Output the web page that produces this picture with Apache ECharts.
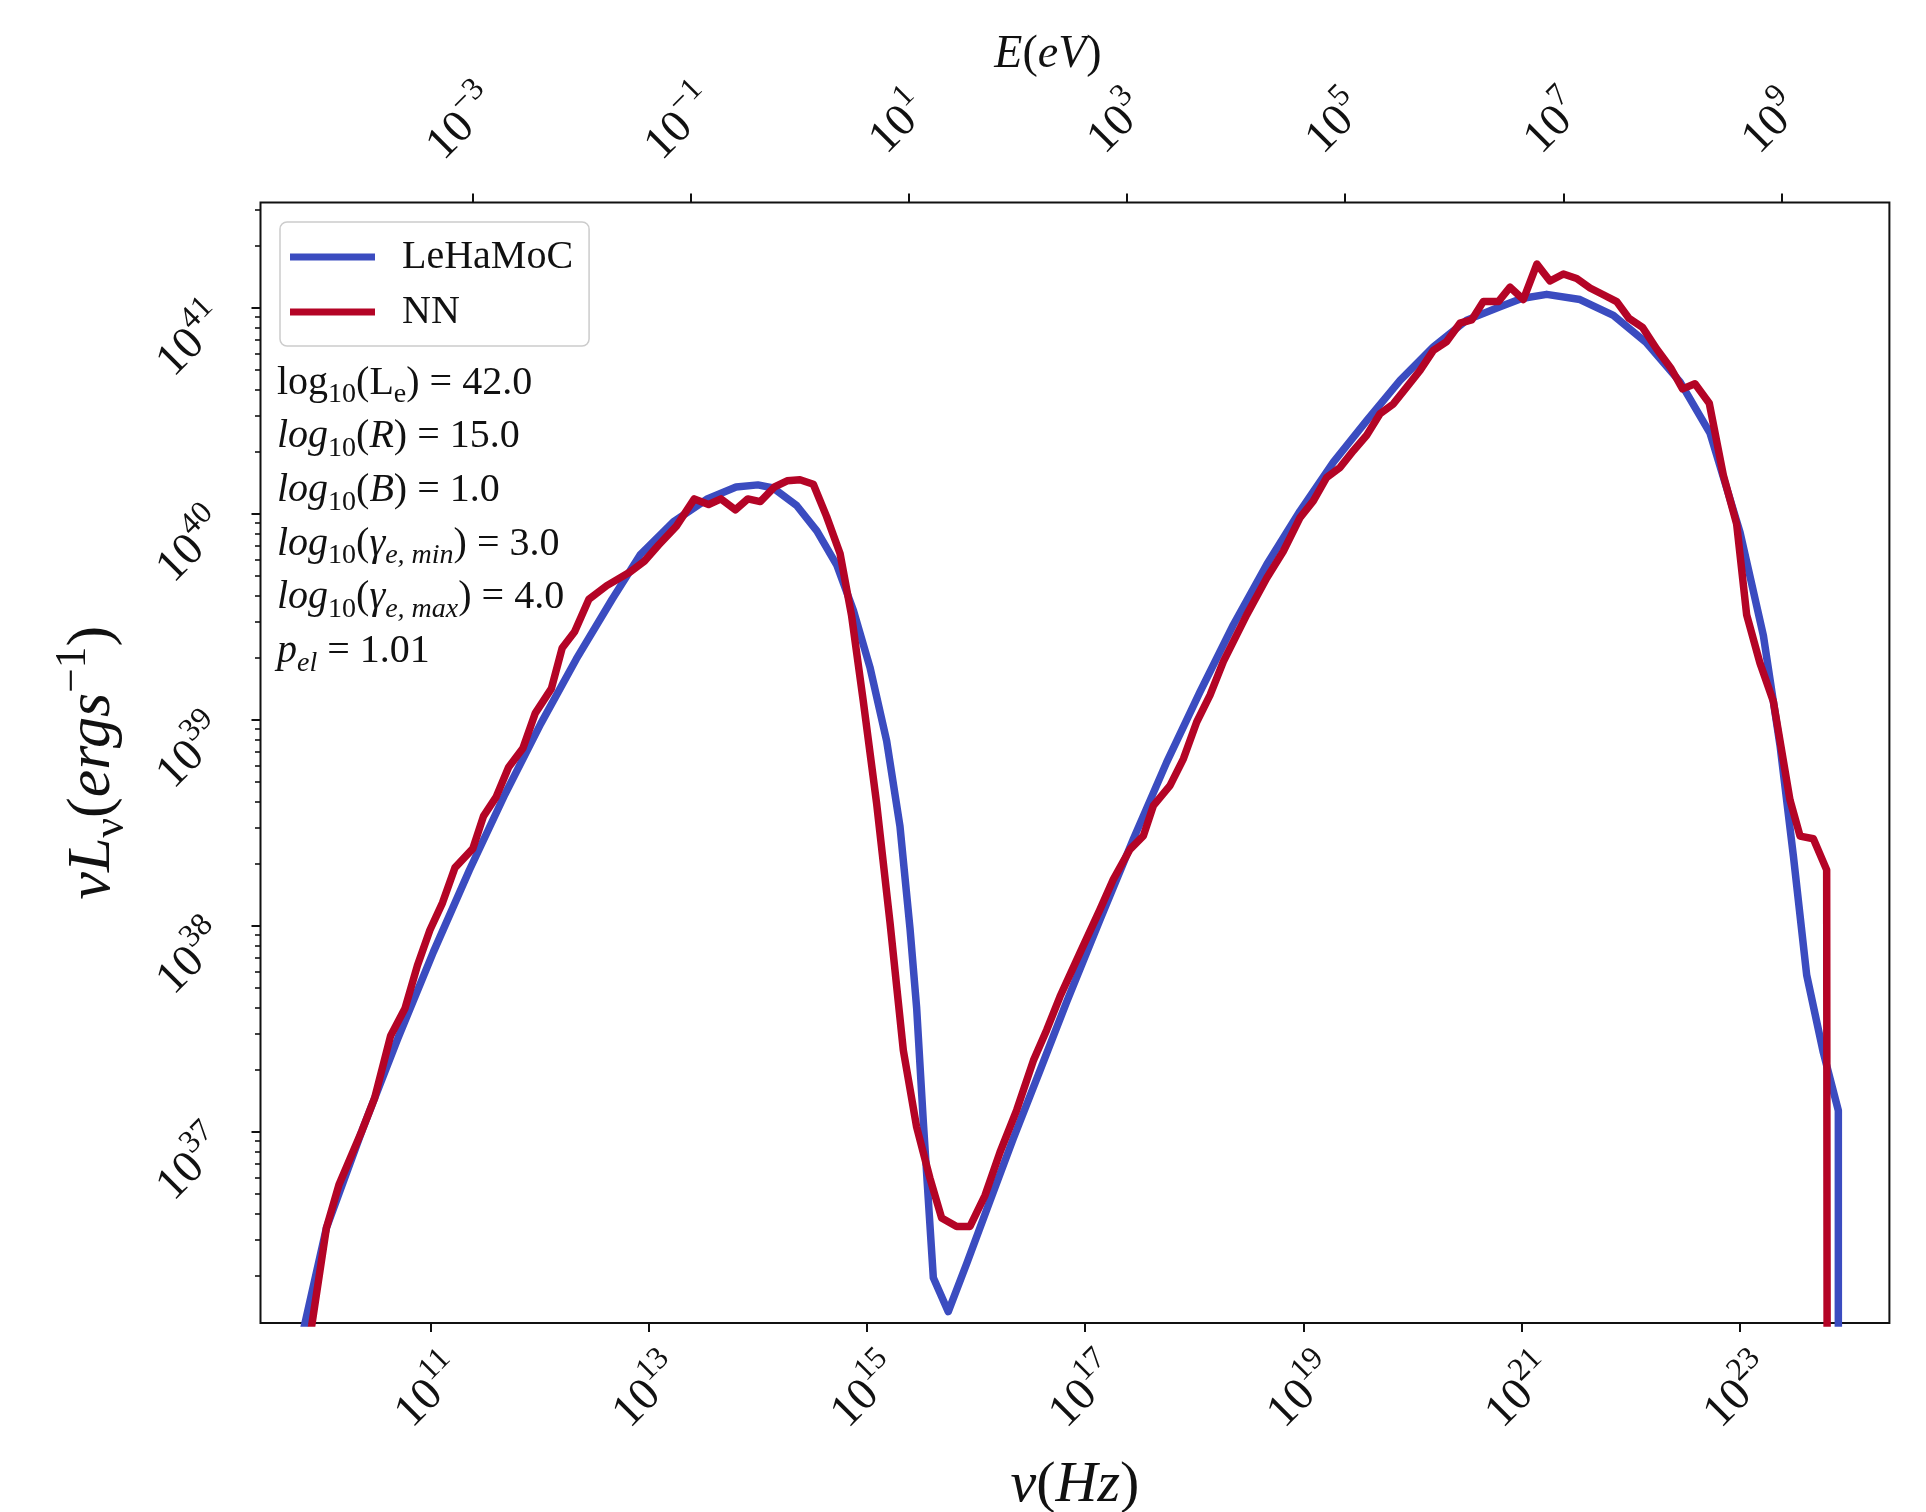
<!DOCTYPE html>
<html><head><meta charset="utf-8">
<script src="https://cdn.jsdelivr.net/npm/echarts@6/dist/echarts.min.js"></script>
<style>html,body{margin:0;padding:0;background:#fff}#chart{width:1926px;height:1512px}</style>
</head><body><div id="chart"></div>
<script>
// ---- data (log10 values) ----
const lehamocLogNu = [9.819, 10.045, 10.372, 10.700, 11.027, 11.355, 11.682, 12.009, 12.336, 12.664, 12.92, 13.225, 13.53, 13.80, 14.00, 14.14, 14.355, 14.54, 14.722, 14.875, 15.027, 15.180, 15.302, 15.394, 15.455, 15.516, 15.608, 15.745, 15.914, 16.127, 16.341, 16.586, 16.830, 17.136, 17.441, 17.747, 18.052, 18.358, 18.664, 18.969, 19.275, 19.580, 19.886, 20.191, 20.497, 20.802, 21.00, 21.230, 21.535, 21.841, 22.146, 22.452, 22.727, 23.002, 23.216, 23.369, 23.491, 23.613, 23.765, 23.903, 23.903];
const lehamocLogL = [36.00, 36.532, 37.006, 37.453, 37.874, 38.269, 38.638, 38.980, 39.295, 39.585, 39.80, 39.96, 40.07, 40.13, 40.14, 40.125, 40.04, 39.917, 39.752, 39.531, 39.255, 38.897, 38.483, 37.987, 37.601, 37.050, 36.291, 36.126, 36.360, 36.664, 36.967, 37.298, 37.63, 38.03, 38.42, 38.794, 39.135, 39.461, 39.753, 40.013, 40.251, 40.452, 40.647, 40.810, 40.940, 41.005, 41.045, 41.065, 41.040, 40.963, 40.829, 40.640, 40.391, 39.910, 39.408, 38.873, 38.338, 37.760, 37.385, 37.103, 30.0];
const nnLogNu = [9.894, 10.045, 10.160, 10.372, 10.487, 10.634, 10.765, 10.880, 10.994, 11.109, 11.224, 11.387, 11.485, 11.600, 11.715, 11.846, 11.960, 12.107, 12.206, 12.320, 12.451, 12.615, 12.828, 12.959, 13.090, 13.253, 13.417, 13.548, 13.662, 13.793, 13.908, 14.022, 14.153, 14.268, 14.386, 14.508, 14.630, 14.753, 14.859, 14.966, 15.088, 15.211, 15.333, 15.455, 15.577, 15.684, 15.822, 15.944, 16.082, 16.219, 16.372, 16.525, 16.647, 16.769, 16.952, 17.136, 17.258, 17.411, 17.533, 17.625, 17.777, 17.900, 18.022, 18.144, 18.266, 18.480, 18.664, 18.816, 18.969, 19.091, 19.213, 19.336, 19.458, 19.580, 19.702, 19.824, 19.947, 20.069, 20.191, 20.313, 20.435, 20.542, 20.649, 20.787, 20.894, 21.016, 21.140, 21.260, 21.383, 21.505, 21.627, 21.749, 21.871, 21.985, 22.108, 22.238, 22.370, 22.475, 22.589, 22.720, 22.849, 22.971, 23.063, 23.185, 23.307, 23.460, 23.552, 23.674, 23.796, 23.811];
const nnLogL = [36.00, 36.532, 36.742, 37.006, 37.163, 37.466, 37.598, 37.808, 37.979, 38.111, 38.282, 38.374, 38.532, 38.624, 38.769, 38.861, 39.032, 39.151, 39.348, 39.427, 39.585, 39.651, 39.717, 39.769, 39.848, 39.940, 40.072, 40.045, 40.072, 40.019, 40.072, 40.059, 40.130, 40.160, 40.165, 40.143, 39.986, 39.807, 39.504, 39.090, 38.594, 38.015, 37.395, 37.022, 36.774, 36.581, 36.540, 36.540, 36.691, 36.900, 37.105, 37.345, 37.494, 37.656, 37.868, 38.079, 38.225, 38.371, 38.436, 38.583, 38.680, 38.810, 38.989, 39.119, 39.282, 39.509, 39.688, 39.818, 39.981, 40.062, 40.176, 40.225, 40.306, 40.381, 40.485, 40.533, 40.615, 40.696, 40.793, 40.836, 40.925, 40.941, 41.030, 41.030, 41.100, 41.040, 41.212, 41.130, 41.164, 41.142, 41.096, 41.063, 41.030, 40.948, 40.905, 40.800, 40.705, 40.606, 40.631, 40.536, 40.187, 39.950, 39.508, 39.274, 39.090, 38.610, 38.435, 38.422, 38.271, 30.0];
const seriesNames = ['LeHaMoC', 'NN'];
const nuTickExps = [11, 13, 15, 17, 19, 21, 23];
const energyTickExps = [-3, -1, 1, 3, 5, 7, 9];
const lumTickExps = [37, 38, 39, 40, 41];
const nuRange = [9.441, 24.371];
const lumRange = [36.071, 41.511];
const paramLines = [
  '{r|log}{sub|10}{r|(L}{sub|e}{r|) = 42.0}',
  '{i|log}{sub|10}{r|(}{i|R}{r|) = 15.0}',
  '{i|log}{sub|10}{r|(}{i|B}{r|) = 1.0}',
  '{i|log}{sub|10}{r|(}{i|γ}{subi|e, min}{r|) = 3.0}',
  '{i|log}{sub|10}{r|(}{i|γ}{subi|e, max}{r|) = 4.0}',
  '{i|p}{subi|el}{r| = 1.01}'
];
const LOG_H_EV = Math.log10(4.135667696e-15);

// ---- styling ----
const SERIF = '"Liberation Serif", "DejaVu Serif", serif';
const INK = '#111111';
const BLUE = '#3b4cc0', RED = '#b40426';

const minorLum = [];
for (let d = Math.floor(lumRange[0]); d <= Math.ceil(lumRange[1]); d++) {
  for (let k = 2; k <= 9; k++) {
    const v = d + Math.log10(k);
    if (v > lumRange[0] && v < lumRange[1]) minorLum.push(v);
  }
}
const expLabel = v => '{b|10}{s|' + String(Math.round(v)).replace('-', '\u2212') + '}';
const tickRich = {
  b: { fontFamily: SERIF, fontSize: 46, lineHeight: 66, color: INK },
  s: { fontFamily: SERIF, fontSize: 32, lineHeight: 26, verticalAlign: 'top', color: INK }
};
const mathRich = (fs) => ({
  i: { fontFamily: SERIF, fontStyle: 'italic', fontSize: fs, color: INK, lineHeight: fs * 1.3 },
  r: { fontFamily: SERIF, fontSize: fs, color: INK, lineHeight: fs * 1.3 },
  sub: { fontFamily: SERIF, fontSize: fs * 0.7, color: INK, verticalAlign: 'bottom', lineHeight: fs * 0.4 },
  subi: { fontFamily: SERIF, fontStyle: 'italic', fontSize: fs * 0.7, color: INK, verticalAlign: 'bottom', lineHeight: fs * 0.4 },
  sup: { fontFamily: SERIF, fontSize: fs * 0.7, color: INK, verticalAlign: 'top', lineHeight: fs * 0.7 }
});
const tickLine = { color: INK, width: 2 };
const noLine = { show: false, onZero: false };

const chart = echarts.init(document.getElementById('chart'));
chart.setOption({
  animation: false,
  backgroundColor: '#ffffff',
  grid: { left: 260.5, right: 36.6, top: 202.5, bottom: 189, show: true, borderColor: INK, borderWidth: 2, backgroundColor: 'transparent', containLabel: false, outerBoundsMode: 'none' },
  legend: {
    data: seriesNames, orient: 'vertical', left: 280, top: 222,
    icon: 'rect', itemWidth: 85, itemHeight: 7, itemGap: 15,
    padding: [15, 16, 14, 10],
    backgroundColor: 'rgba(255,255,255,0.8)', borderColor: '#cccccc', borderWidth: 1.5, borderRadius: 7,
    textStyle: { fontFamily: SERIF, fontSize: 40, color: INK, padding: [0, 0, 0, 22] }
  },
  xAxis: [
    {
      type: 'value', position: 'bottom', min: nuRange[0], max: nuRange[1],
      name: '{i|ν}{r|(}{i|Hz}{r|)}', nameLocation: 'middle', nameGap: 163, nameMoveOverlap: false,
      nameTextStyle: { rich: mathRich(58), verticalAlign: 'middle', align: 'center' },
      axisLine: noLine, splitLine: { show: false },
      axisTick: { customValues: nuTickExps, length: 9, lineStyle: tickLine },
      axisLabel: { customValues: nuTickExps, formatter: expLabel, rich: tickRich, rotate: 45, align: 'center', verticalAlign: 'middle', margin: 70 }
    },
    {
      type: 'value', position: 'top', min: nuRange[0] + LOG_H_EV, max: nuRange[1] + LOG_H_EV,
      name: '{i|E}{r|(}{i|eV}{r|)}', nameLocation: 'middle', nameGap: 148, nameMoveOverlap: false,
      nameTextStyle: { rich: mathRich(46), verticalAlign: 'middle', align: 'center', padding: [0, 54, 0, 0] },
      axisLine: noLine, splitLine: { show: false },
      axisTick: { customValues: energyTickExps, length: 9, lineStyle: tickLine },
      axisLabel: { customValues: energyTickExps, formatter: expLabel, rich: tickRich, rotate: -45, align: 'center', verticalAlign: 'middle', margin: 78, padding: [0, 13, 13, 0] }
    }
  ],
  yAxis: [
    {
      type: 'value', position: 'left', min: lumRange[0], max: lumRange[1],
      name: '{i|νL}{sub|ν}{r|(}{i|ergs}{sup|\u22121}{r|)}', nameLocation: 'middle', nameGap: 168, nameRotate: 90, nameMoveOverlap: false,
      nameTextStyle: { rich: mathRich(62), verticalAlign: 'middle', align: 'center' },
      axisLine: noLine, splitLine: { show: false },
      axisTick: { customValues: lumTickExps, length: 9, lineStyle: tickLine },
      axisLabel: { customValues: lumTickExps, formatter: expLabel, rich: tickRich, rotate: 45, align: 'center', verticalAlign: 'middle', margin: 68, padding: [48, 48, 0, 0] }
    },
    {
      type: 'value', position: 'left', min: lumRange[0], max: lumRange[1],
      axisLine: noLine, splitLine: { show: false }, axisLabel: { show: false },
      axisTick: { customValues: minorLum, length: 5.5, lineStyle: { color: INK, width: 1.6 } }
    }
  ],
  series: [
    {
      name: seriesNames[0], type: 'line', xAxisIndex: 0, yAxisIndex: 0, symbol: 'none', clip: true, z: 3,
      data: lehamocLogNu.map((x, i) => [x, lehamocLogL[i]]),
      itemStyle: { color: BLUE }, lineStyle: { color: BLUE, width: 7.5, join: 'round' }
    },
    {
      name: seriesNames[1], type: 'line', xAxisIndex: 0, yAxisIndex: 0, symbol: 'none', clip: true, z: 4,
      data: nnLogNu.map((x, i) => [x, nnLogL[i]]),
      itemStyle: { color: RED }, lineStyle: { color: RED, width: 7.5, join: 'round' }
    }
  ],
  graphic: paramLines.map((t, i) => ({
    type: 'text', x: 277, y: 383 + i * 53.7, z: 10,
    style: { text: t, rich: mathRich(40), align: 'left', verticalAlign: 'middle', fill: INK, fontFamily: SERIF, fontSize: 40 }
  }))
});
</script></body></html>
